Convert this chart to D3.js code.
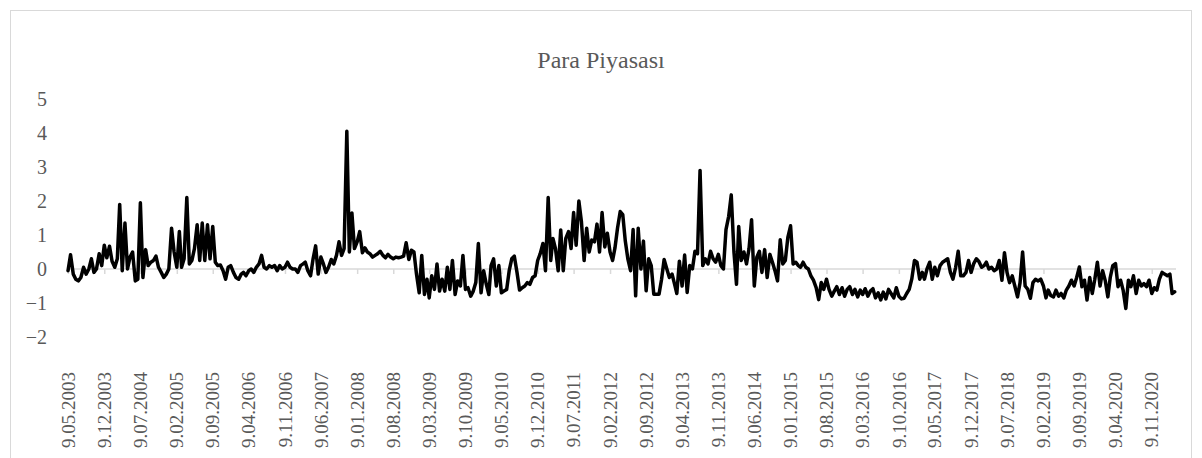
<!DOCTYPE html>
<html>
<head>
<meta charset="utf-8">
<script src="https://cdn.jsdelivr.net/npm/d3@7"></script>
<style>
  body { margin: 0; background: #fff; }
  svg { display: block; }
  text { font-family: "Liberation Serif", Tinos, "Times New Roman", "DejaVu Serif", serif; }
</style>
</head>
<body>
<svg id="chart" width="1202" height="458"></svg>
<script>
// chart data
var title = "Para Piyasası";
var yTicks = [-2, -1, 0, 1, 2, 3, 4, 5];
var tickLabels = ["9.05.2003", "9.12.2003", "9.07.2004", "9.02.2005", "9.09.2005", "9.04.2006",
  "9.11.2006", "9.06.2007", "9.01.2008", "9.08.2008", "9.03.2009", "9.10.2009", "9.05.2010",
  "9.12.2010", "9.07.2011", "9.02.2012", "9.09.2012", "9.04.2013", "9.11.2013", "9.06.2014",
  "9.01.2015", "9.08.2015", "9.03.2016", "9.10.2016", "9.05.2017", "9.12.2017", "9.07.2018",
  "9.02.2019", "9.09.2019", "9.04.2020", "9.11.2020"];

// values twice a month (the 9th and the 24th)
var v2003 = [-0.05, 0.42, -0.15, -0.3, -0.35, -0.25, 0.05, -0.15, 0.0, 0.3, -0.1, 0.0, 0.45, 0.1, 0.7, 0.33];
var v2004 = [0.67, 0.23, 0.05, 0.3, 1.9, -0.05, 1.35, 0.0, 0.35, 0.5, -0.35, -0.3, 1.95, -0.25, 0.57, 0.1, 0.2, 0.25, 0.38, 0.05, -0.1, -0.25, -0.15, 0.0];
var v2005 = [1.2, 0.5, 0.05, 1.1, 0.05, 0.3, 2.1, 0.15, 0.25, 0.6, 1.3, 0.25, 1.35, 0.25, 1.3, 0.3, 1.25, 0.2, 0.1, 0.12, -0.05, -0.3, 0.05, 0.1];
var v2006 = [-0.1, -0.25, -0.3, -0.15, -0.1, -0.2, -0.05, 0.0, -0.1, 0.05, 0.15, 0.4, 0.05, 0.0, 0.1, 0.05, 0.1, -0.05, 0.1, 0.0, 0.05, 0.2, 0.05, 0.0];
var v2007 = [0.0, -0.1, 0.1, 0.15, 0.2, -0.05, -0.2, 0.3, 0.68, -0.15, 0.35, 0.15, -0.1, 0.05, 0.28, 0.15, 0.4, 0.8, 0.4, 0.6, 4.05, 0.5, 1.65, 0.6];
var v2008 = [0.8, 1.1, 0.48, 0.62, 0.5, 0.45, 0.35, 0.4, 0.45, 0.52, 0.4, 0.33, 0.43, 0.35, 0.3, 0.35, 0.33, 0.35, 0.38, 0.77, 0.28, 0.55, 0.5, -0.15];
var v2009 = [-0.7, 0.4, -0.75, -0.3, -0.85, -0.2, -0.6, 0.15, -0.65, -0.3, -0.65, 0.05, -0.6, 0.25, -0.75, -0.35, -0.5, 0.4, -0.6, -0.55, -0.8, -0.65, -0.4, 0.75];
var v2010 = [-0.7, -0.05, -0.45, -0.75, 0.1, 0.3, -0.5, 0.1, -0.7, -0.65, -0.6, -0.05, 0.3, 0.38, -0.1, -0.62, -0.55, -0.5, -0.4, -0.45, -0.25, -0.2, 0.25, 0.45];
var v2011 = [0.75, -0.05, 2.1, 0.25, 0.9, 0.6, -0.05, 1.15, -0.05, 0.9, 1.1, 0.6, 1.66, 0.7, 2.0, 1.4, 0.25, 1.2, 0.5, 0.85, 0.8, 1.32, 0.5, 1.66];
var v2012 = [0.65, 1.05, 0.5, 0.25, 0.62, 1.2, 1.69, 1.6, 0.82, 0.3, -0.05, 1.16, -0.79, 1.2, 0.0, 0.82, -0.64, 0.3, 0.1, -0.74, -0.74, -0.74, -0.3, 0.28];
var v2013 = [0.0, -0.25, -0.15, -0.45, -0.72, 0.23, -0.5, 0.41, -0.69, 0.1, 0.0, 0.52, 0.45, 2.9, 0.1, 0.3, 0.15, 0.52, 0.3, 0.2, 0.43, 0.1, 0.0, 1.16];
var v2014 = [1.55, 2.18, 0.5, -0.45, 1.25, 0.25, 0.5, 0.15, 0.6, 1.45, -0.5, 0.35, 0.52, -0.1, 0.57, -0.25, 0.43, 0.2, -0.05, -0.35, 0.86, 0.15, 0.25, 0.93];
var v2015 = [1.27, 0.15, 0.2, 0.1, 0.05, 0.2, 0.05, 0.0, -0.2, -0.33, -0.55, -0.9, -0.4, -0.6, -0.3, -0.6, -0.8, -0.65, -0.52, -0.75, -0.55, -0.8, -0.6, -0.52];
var v2016 = [-0.75, -0.6, -0.82, -0.62, -0.75, -0.58, -0.8, -0.65, -0.58, -0.85, -0.7, -0.91, -0.68, -0.88, -0.6, -0.72, -0.85, -0.55, -0.8, -0.88, -0.86, -0.72, -0.6, -0.3];
var v2017 = [0.25, 0.2, -0.3, -0.1, -0.3, 0.0, 0.2, -0.3, 0.05, -0.2, 0.1, 0.2, 0.25, 0.3, -0.1, -0.3, 0.05, 0.52, -0.2, -0.2, -0.1, 0.25, -0.1, 0.15];
var v2018 = [0.3, 0.22, 0.05, 0.1, 0.2, 0.0, 0.05, -0.05, 0.0, 0.25, -0.33, 0.48, -0.1, -0.4, -0.2, -0.5, -0.82, -0.4, 0.5, -0.5, -0.6, -0.86, -0.4, -0.3];
var v2019 = [-0.35, -0.3, -0.5, -0.85, -0.62, -0.78, -0.82, -0.62, -0.8, -0.72, -0.85, -0.62, -0.5, -0.33, -0.5, -0.25, 0.06, -0.52, -0.33, -0.91, -0.25, -0.72, -0.3, 0.2];
var v2020 = [-0.5, -0.05, -0.35, -0.82, -0.25, 0.1, 0.16, -0.52, -0.33, -0.62, -1.16, -0.33, -0.52, -0.2, -0.72, -0.33, -0.5, -0.43, -0.52, -0.33, -0.72, -0.55, -0.62, -0.3];
var v2021 = [-0.1, -0.15, -0.2, -0.15, -0.72, -0.67];

// [year, first month, values]
var years = [[2003, 5, v2003], [2004, 1, v2004], [2005, 1, v2005], [2006, 1, v2006],
  [2007, 1, v2007], [2008, 1, v2008], [2009, 1, v2009], [2010, 1, v2010], [2011, 1, v2011],
  [2012, 1, v2012], [2013, 1, v2013], [2014, 1, v2014], [2015, 1, v2015], [2016, 1, v2016],
  [2017, 1, v2017], [2018, 1, v2018], [2019, 1, v2019], [2020, 1, v2020], [2021, 1, v2021]];

var data = [];
years.forEach(function(y) {
  y[2].forEach(function(v, i) {
    var m = y[1] - 1 + Math.floor(i / 2);
    data.push({date: new Date(y[0], m, i % 2 ? 24 : 9), value: v});
  });
});

var svg = d3.select("#chart");
var W = +svg.attr("width"), H = +svg.attr("height");
var grey = "#595959";

// chart area border
svg.append("rect")
  .attr("x", 10.5).attr("y", 10.5)
  .attr("width", W - 21).attr("height", H + 20)
  .attr("fill", "none").attr("stroke", "#d9d9d9").attr("stroke-width", 1);

var parse = d3.timeParse("%d.%m.%Y");
var x = d3.scaleTime()
  .domain([new Date(2003, 4, 9), new Date(2021, 3, 1)])
  .range([68, 1176]);
var y = d3.scaleLinear().domain([-2, 5]).range([337, 99]);

svg.append("text")
  .attr("x", W / 2).attr("y", 68)
  .attr("text-anchor", "middle")
  .style("font-size", "24px")
  .attr("fill", grey)
  .text(title);

// y axis labels (no axis line)
var yAxis = svg.append("g")
  .attr("transform", "translate(47,0)")
  .call(d3.axisLeft(y).tickValues(yTicks).tickSize(0).tickPadding(0).tickFormat(d3.format("d")));
yAxis.select(".domain").remove();
yAxis.attr("font-family", null);
yAxis.selectAll("text")
  .style("font-size", "20px").attr("fill", grey);

// horizontal axis at zero
var xAxis = svg.append("g")
  .attr("transform", "translate(0," + y(0) + ")")
  .call(d3.axisBottom(x).tickValues(tickLabels.map(parse)).tickSize(5).tickFormat(""));
xAxis.select(".domain")
  .attr("d", "M" + x.range()[0] + ",0H" + x.range()[1])
  .attr("stroke", "#d9d9d9").attr("stroke-width", 1.5);
xAxis.selectAll(".tick line").attr("stroke", "#d9d9d9").attr("stroke-width", 1.5);

// rotated date labels at the bottom
svg.append("g").selectAll("text")
  .data(tickLabels)
  .enter().append("text")
  .attr("transform", function(d) { return "translate(" + x(parse(d)) + ",372) rotate(-90)"; })
  .attr("text-anchor", "end")
  .attr("dy", "0.35em")
  .style("font-size", "19px")
  .attr("fill", grey)
  .text(function(d) { return d; });

var line = d3.line()
  .x(function(d) { return x(d.date); })
  .y(function(d) { return y(d.value); });

svg.append("path")
  .datum(data)
  .attr("d", line)
  .attr("fill", "none")
  .attr("stroke", "#000")
  .attr("stroke-width", 3.5)
  .attr("stroke-linejoin", "round")
  .attr("stroke-linecap", "round");
</script>
</body>
</html>
